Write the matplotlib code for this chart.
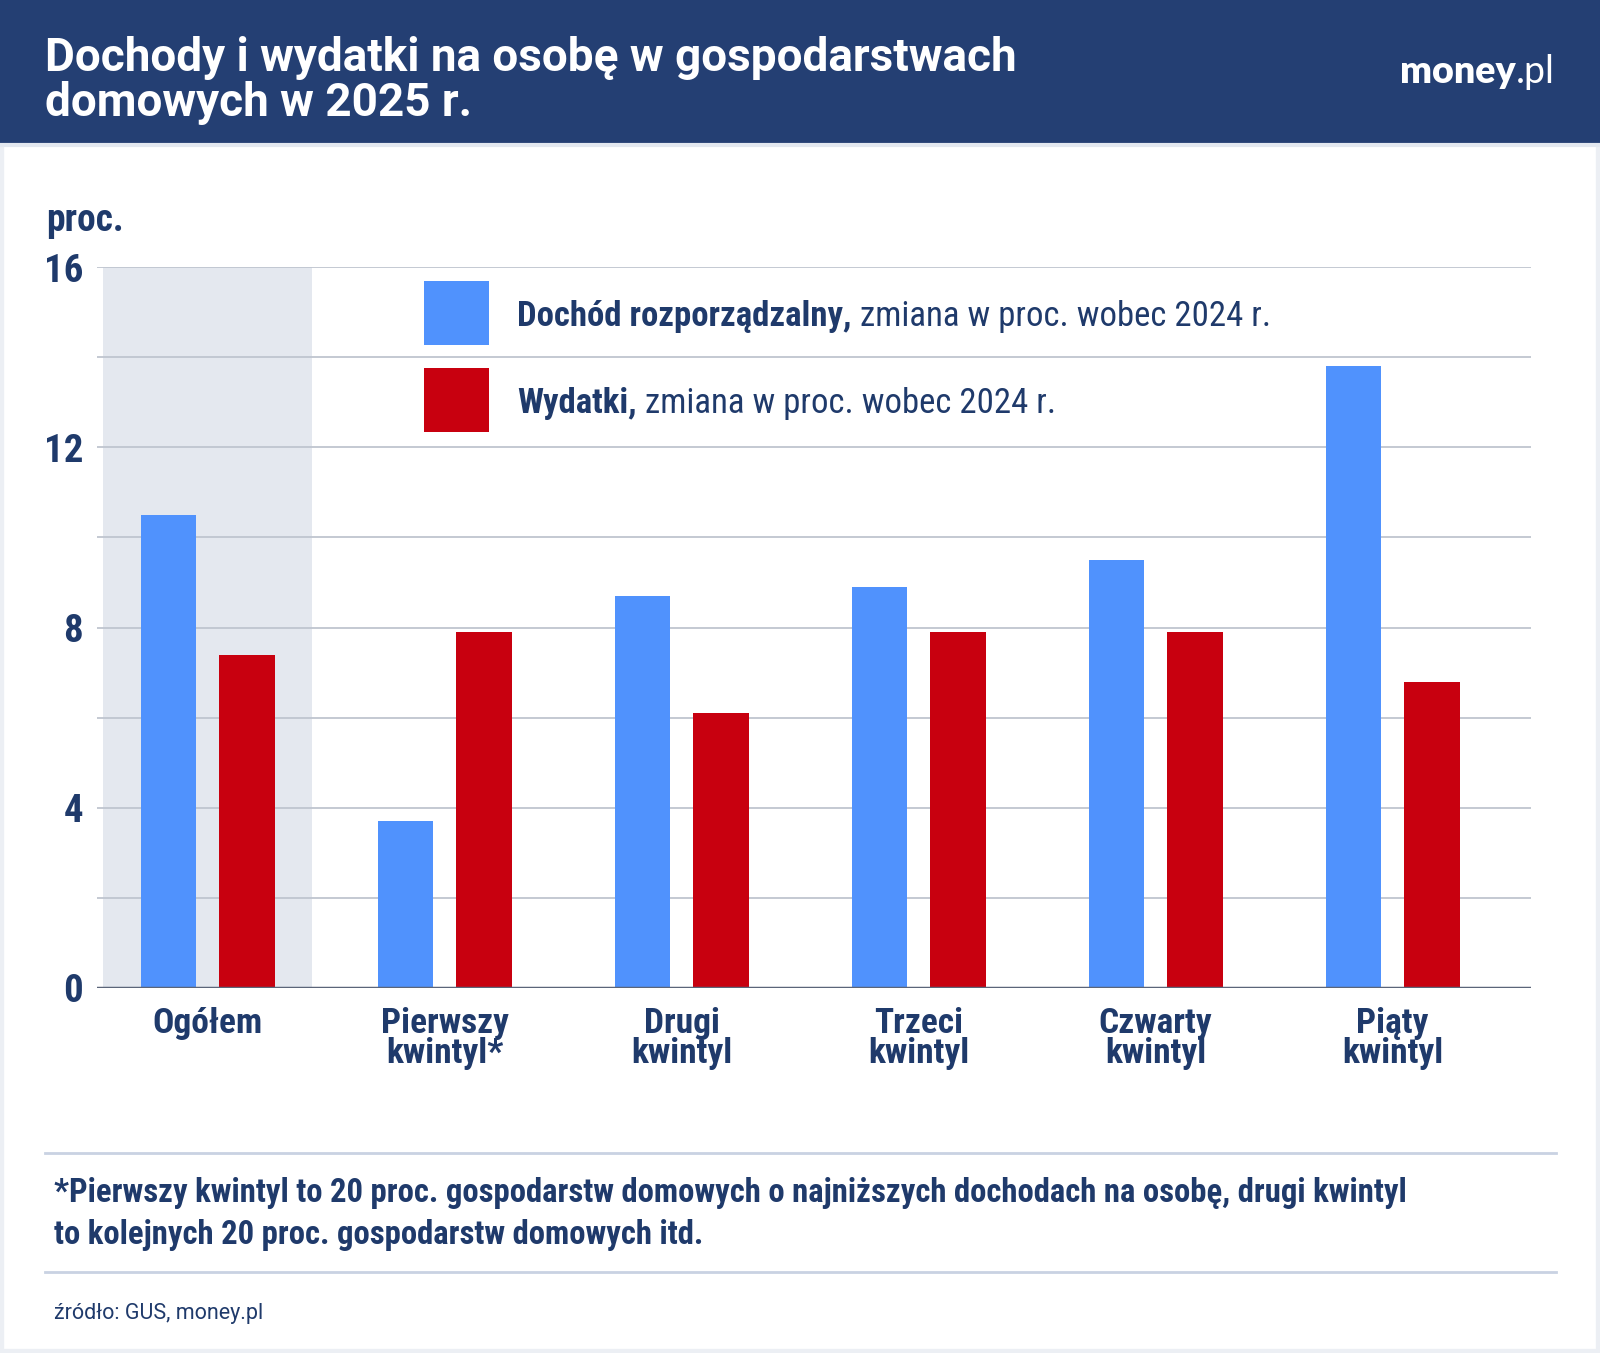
import matplotlib
matplotlib.use("agg")
import matplotlib.pyplot as plt
import matplotlib.patches as patches
import numpy as np

categories = ["Ogółem", "Pierwszy\nkwintyl*", "Drugi\nkwintyl", "Trzeci\nkwintyl",
              "Czwarty\nkwintyl", "Piąty\nkwintyl"]
dochod = [10.5, 3.7, 8.7, 8.9, 9.5, 13.8]
wydatki = [7.4, 7.9, 6.1, 7.9, 7.9, 6.8]
yticks = [0, 4, 8, 12, 16]

NAVY = "#1f3a6b"
HEADER = "#243f73"
BLUE = "#5092fd"
RED = "#c8000f"
BAND = "#e4e8ef"
GRID = "#bfc5cf"

COND = ["Roboto Condensed", "Liberation Sans Narrow", "Roboto"]

W, H = 1600, 1353
fig = plt.figure(figsize=(W / 100, H / 100), dpi=100, facecolor="white")


def fx(px):
    return px / W


def fy(py):
    return 1 - py / H


# frame and header band
fig.add_artist(patches.Rectangle((0, 0), 1, 1, transform=fig.transFigure,
                                 facecolor="none", edgecolor="#eceff4", lw=6, zorder=0))
fig.add_artist(patches.Rectangle((0, fy(143)), 1, 143 / H, transform=fig.transFigure,
                                 facecolor=HEADER, edgecolor="none", zorder=1))
fig.add_artist(plt.Line2D([0, 1], [fy(145), fy(145)], transform=fig.transFigure,
                          color="#e3e8f0", lw=3, zorder=1))
fig.text(fx(45), fy(71), "Dochody i wydatki na osobę w gospodarstwach", color="white",
         fontsize=33, fontweight="bold", family="Roboto", va="baseline")
fig.text(fx(45), fy(116), "domowych w 2025 r.", color="white",
         fontsize=33, fontweight="bold", family="Roboto", va="baseline")

renderer = fig.canvas.get_renderer()


def rich(x, y, parts, gap=0.0):
    for txt, kw in parts:
        t = fig.text(x, y, txt, va="baseline", **kw)
        bb = t.get_window_extent(renderer)
        x = bb.x1 / W + gap


rich(fx(1400), fy(83), [("money", dict(color="white", fontsize=27, fontweight="heavy", family="Lato")),
                        (".pl", dict(color="white", fontsize=27, fontweight="normal", family="Lato"))])

# axes
ax = fig.add_axes([fx(97), fy(988), fx(1531) - fx(97), fy(267) - fy(988)])
x = np.arange(len(categories))
width = 0.233
off = 0.166
ax.axvspan(-0.44, 0.44, color=BAND, zorder=0, lw=0)
ax.bar(x - off, dochod, width, color=BLUE, zorder=2)
ax.bar(x + off, wydatki, width, color=RED, zorder=2)
ax.set_xlim(-0.467, 5.584)
ax.set_ylim(0, 16)
ax.set_yticks(yticks)
ax.set_yticks([2, 6, 10, 14], minor=True)
ax.grid(axis="y", which="both", color=GRID, lw=1.3, zorder=1)
ax.axhline(0, color="#5b6579", lw=2.5, zorder=3)
for s in ax.spines.values():
    s.set_visible(False)
ax.set_facecolor("none")
ax.tick_params(axis="y", which="both", length=0, pad=10, labelsize=28, labelcolor=NAVY)
for lab in ax.get_yticklabels():
    lab.set_family(COND)
    lab.set_fontweight("bold")
ax.set_xticks(x)
ax.set_xticklabels(categories, fontsize=25.5, fontweight="bold", color=NAVY,
                   family=COND, linespacing=0.85)
ax.tick_params(axis="x", length=0, pad=14)

fig.text(fx(46), fy(231), "proc.", color=NAVY, fontsize=27, fontweight="bold",
         family=COND, va="baseline")

# legend
for ypx, col in [(281, BLUE), (368, RED)]:
    fig.add_artist(patches.Rectangle((fx(424), fy(ypx + 64)), 65 / W, 64 / H,
                                     transform=fig.transFigure, facecolor=col,
                                     edgecolor="none", zorder=5))
rich(fx(517), fy(326), [("Dochód rozporządzalny,", dict(color=NAVY, fontsize=25, fontweight="bold", family=COND)),
                        ("zmiana w proc. wobec 2024 r.", dict(color=NAVY, fontsize=25, family=COND))],
     gap=8 / W)
rich(fx(517), fy(413), [("Wydatki,", dict(color=NAVY, fontsize=25, fontweight="bold", family=COND)),
                        ("zmiana w proc. wobec 2024 r.", dict(color=NAVY, fontsize=25, family=COND))],
     gap=8 / W)

# footnote
for ypx in [1153, 1272]:
    fig.add_artist(plt.Line2D([fx(45), fx(1556)], [fy(ypx), fy(ypx)], transform=fig.transFigure,
                              color="#c9d2e2", lw=2))
fig.text(fx(54), fy(1202), "*Pierwszy kwintyl to 20 proc. gospodarstw domowych o najniższych dochodach na osobę, drugi kwintyl",
         color=NAVY, fontsize=23.6, fontweight="bold", family=COND, va="baseline")
fig.text(fx(54), fy(1244), "to kolejnych 20 proc. gospodarstw domowych itd.",
         color=NAVY, fontsize=23.6, fontweight="bold", family=COND, va="baseline")
fig.text(fx(54), fy(1319), "źródło: GUS, money.pl", color=NAVY, fontsize=15.5,
         family="Roboto", va="baseline")

fig.savefig("out.png", dpi=100, facecolor="white")
